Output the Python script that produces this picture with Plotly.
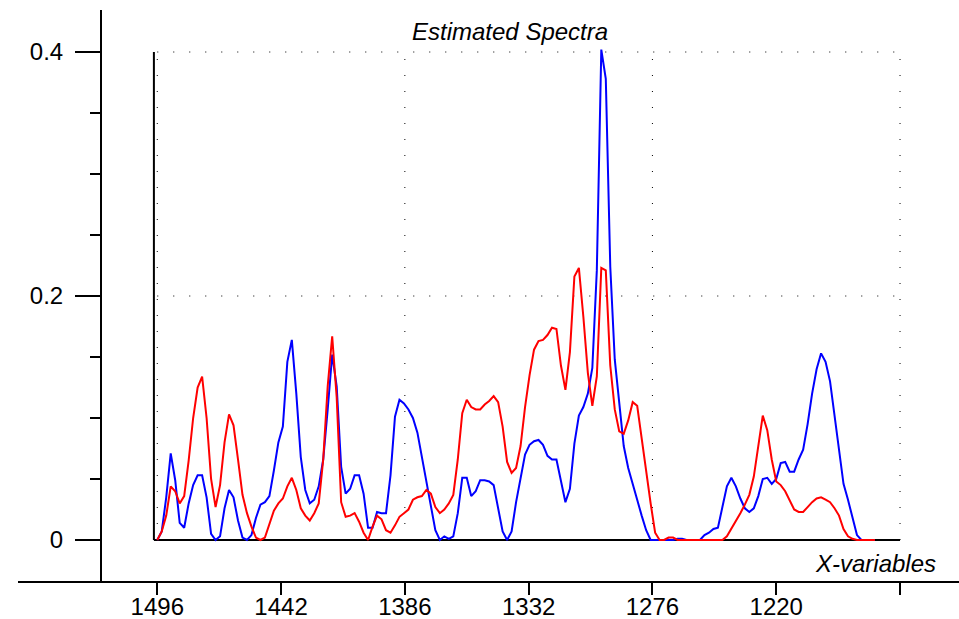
import plotly.graph_objects as go

# Spectral axis: first variable and spacing (cm-1)
first_wn = 1496
wn_step = 2

# Estimated component spectra, one value per X-variable
blue_spectrum = [
    0.000, 0.007, 0.035, 0.071, 0.049, 0.014, 0.010, 0.030, 0.045, 0.053,
    0.053, 0.035, 0.005, 0.000, 0.003, 0.026, 0.041, 0.035, 0.016, 0.002,
    0.000, 0.004, 0.018, 0.029, 0.031, 0.036, 0.057, 0.080, 0.093, 0.146,
    0.164, 0.120, 0.068, 0.041, 0.030, 0.033, 0.044, 0.066, 0.107, 0.152,
    0.126, 0.060, 0.038, 0.042, 0.053, 0.053, 0.038, 0.010, 0.010, 0.023,
    0.022, 0.022, 0.053, 0.101, 0.115, 0.112, 0.107, 0.100, 0.088, 0.068,
    0.046, 0.026, 0.008, 0.000, 0.003, 0.001, 0.003, 0.022, 0.051, 0.051,
    0.036, 0.040, 0.049, 0.049, 0.048, 0.045, 0.027, 0.007, 0.000, 0.007,
    0.031, 0.052, 0.070, 0.078, 0.081, 0.082, 0.078, 0.069, 0.066, 0.066,
    0.049, 0.031, 0.042, 0.079, 0.102, 0.109, 0.120, 0.141, 0.221, 0.402,
    0.378, 0.224, 0.148, 0.110, 0.077, 0.059, 0.045, 0.033, 0.020, 0.008,
    0.000, 0.000, 0.000, 0.000, 0.000, 0.000, 0.001, 0.001, 0.000, 0.000,
    0.000, 0.000, 0.004, 0.006, 0.009, 0.010, 0.027, 0.044, 0.051, 0.044,
    0.034, 0.026, 0.023, 0.026, 0.036, 0.050, 0.051, 0.046, 0.050, 0.063,
    0.064, 0.056, 0.056, 0.066, 0.074, 0.095, 0.120, 0.140, 0.153, 0.146,
    0.130, 0.101, 0.071, 0.046, 0.033, 0.019, 0.004, 0.000, 0.000, 0.000,
    0.000,
]
red_spectrum = [
    0.000, 0.007, 0.020, 0.044, 0.040, 0.030, 0.036, 0.065, 0.100, 0.125,
    0.134, 0.100, 0.050, 0.027, 0.045, 0.080, 0.103, 0.094, 0.066, 0.037,
    0.022, 0.011, 0.002, 0.000, 0.002, 0.013, 0.024, 0.030, 0.034, 0.044,
    0.051, 0.041, 0.026, 0.020, 0.016, 0.022, 0.030, 0.066, 0.126, 0.167,
    0.117, 0.031, 0.019, 0.020, 0.022, 0.015, 0.006, 0.000, 0.011, 0.020,
    0.017, 0.008, 0.006, 0.012, 0.019, 0.022, 0.025, 0.033, 0.035, 0.036,
    0.041, 0.038, 0.027, 0.022, 0.025, 0.030, 0.037, 0.066, 0.104, 0.115,
    0.109, 0.107, 0.107, 0.111, 0.114, 0.118, 0.113, 0.093, 0.064, 0.055,
    0.059, 0.077, 0.109, 0.135, 0.156, 0.163, 0.164, 0.168, 0.174, 0.173,
    0.143, 0.123, 0.154, 0.216, 0.223, 0.183, 0.137, 0.110, 0.134, 0.223,
    0.221, 0.143, 0.107, 0.089, 0.087, 0.098, 0.113, 0.110, 0.083, 0.055,
    0.030, 0.006, 0.000, 0.000, 0.002, 0.002, 0.000, 0.000, 0.000, 0.000,
    0.000, 0.000, 0.000, 0.000, 0.000, 0.000, 0.000, 0.003, 0.009, 0.015,
    0.022, 0.029, 0.037, 0.052, 0.077, 0.102, 0.090, 0.066, 0.048, 0.045,
    0.040, 0.033, 0.025, 0.023, 0.023, 0.027, 0.031, 0.034, 0.035, 0.033,
    0.031, 0.026, 0.020, 0.009, 0.003, 0.001, 0.000, 0.000, 0.000, 0.000,
    0.000,
]

# X-variable tick labels (one tick every 27.6 variables, last tick unlabelled)
x_tick_labels = ["1496", "1442", "1386", "1332", "1276", "1220", ""]
vars_per_tick = 27.6

y_tick_values = [0, 0.2, 0.4]
y_tick_labels = ["0", "0.2", "0.4"]

wavenumbers = [first_wn - wn_step * i for i in range(len(blue_spectrum))]
x_tick_pos = [first_wn - wn_step * vars_per_tick * k for k in range(len(x_tick_labels))]

FONT = "Liberation Sans, Arial, Helvetica, sans-serif"
FS = 24

fig = go.Figure()
fig.add_trace(go.Scatter(x=wavenumbers, y=blue_spectrum, mode="lines",
                         line=dict(color="#0000ff", width=2), showlegend=False))
fig.add_trace(go.Scatter(x=wavenumbers, y=red_spectrum, mode="lines",
                         line=dict(color="#ff0000", width=2), showlegend=False))

frame_left = first_wn + 1.5
frame_right = x_tick_pos[-1]
y_top = y_tick_values[-1]

shapes = []
# dotted grid: every second x tick, and the 0.2 / 0.4 levels
for xv in x_tick_pos[::2]:
    shapes.append(dict(type="line", xref="x", yref="y", x0=xv, x1=xv, y0=0, y1=y_top,
                       line=dict(color="black", width=1, dash="1px,15px"), layer="below"))
for yv in y_tick_values[1:]:
    shapes.append(dict(type="line", xref="x", yref="y", x0=first_wn, x1=frame_right,
                       y0=yv, y1=yv,
                       line=dict(color="black", width=1, dash="1px,15px"), layer="below"))
# solid inner frame: left edge and zero baseline
shapes.append(dict(type="line", xref="x", yref="y", x0=frame_left, x1=frame_left,
                   y0=0, y1=y_top, line=dict(color="black", width=2), layer="below"))
shapes.append(dict(type="line", xref="x", yref="y", x0=frame_left, x1=frame_right,
                   y0=0, y1=0, line=dict(color="black", width=2), layer="below"))

fig.update_layout(
    width=959, height=619,
    margin=dict(l=18, r=0, t=10, b=38, autoexpand=False),
    paper_bgcolor="white", plot_bgcolor="white",
    font=dict(family=FONT, size=FS, color="black"),
    shapes=shapes,
    xaxis=dict(
        range=[1558.1, 1138.5], automargin=False,
        tickmode="array", tickvals=x_tick_pos, ticktext=x_tick_labels,
        ticks="outside", ticklen=12, tickwidth=2, tickcolor="black",
        ticklabelstandoff=-9,
        showline=True, linecolor="black", linewidth=2,
        showgrid=False, zeroline=False,
        tickfont=dict(family=FONT, size=FS, color="black"),
    ),
    yaxis=dict(
        range=[-0.033607, 0.434426], automargin=False,
        anchor="free", position=83 / 941,
        tickmode="array", tickvals=y_tick_values, ticktext=y_tick_labels,
        ticks="outside", ticklen=25, tickwidth=2, tickcolor="black",
        ticklabelstandoff=7,
        minor=dict(dtick=0.05, tick0=0, ticks="outside", ticklen=10,
                   tickwidth=2, tickcolor="black", showgrid=False),
        showline=True, linecolor="black", linewidth=2,
        showgrid=False, zeroline=False,
        tickfont=dict(family=FONT, size=FS, color="black"),
    ),
    annotations=[
        dict(text="<i>Estimated Spectra</i>", xref="paper", yref="paper",
             x=(510 - 18) / 941, y=(581 - 32) / 571, xanchor="center", yanchor="middle",
             showarrow=False, font=dict(family=FONT, size=FS, color="black")),
        dict(text="<i>X-variables</i>", xref="paper", yref="paper",
             x=(938 - 18) / 941, y=(581 - 563) / 571, xanchor="right", yanchor="middle",
             showarrow=False, font=dict(family=FONT, size=FS, color="black")),
    ],
)

fig.write_html("out.html")
